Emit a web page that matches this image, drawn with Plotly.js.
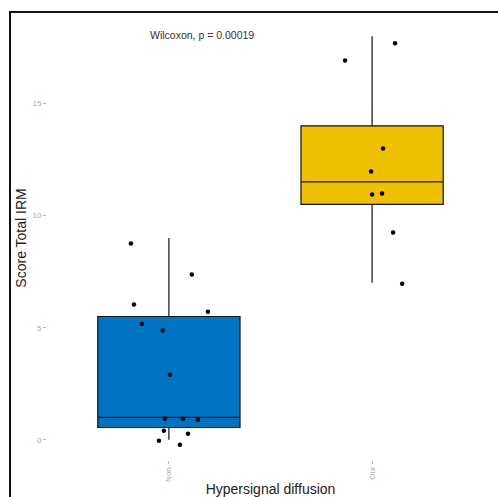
<!DOCTYPE html>
<html>
<head>
<meta charset="utf-8">
<script src="https://cdn.plot.ly/plotly-3.0.1.min.js"></script>
<style>
  html, body { margin: 0; padding: 0; background: #fff; }
  #wrap { position: relative; width: 498px; height: 497px; }
  #chart { width: 498px; height: 497px; }
  #frame { position: absolute; left: 9px; top: 11px; right: 0; bottom: 0;
           border-top: 2px solid #111; border-left: 2px solid #111; pointer-events: none; }
</style>
</head>
<body>
<div id="wrap"><div id="chart"></div><div id="frame"></div></div>
<script>
// Categories and tick labels
const groups = ["Non", "Oui"];
const groupColors = ["#0073C2", "#EFC000"];

// Box statistics (Score Total IRM)
const q1 = [0.55, 10.5];
const median = [1.0, 11.5];
const q3 = [5.5, 14.0];
const lowerWhisker = [0, 7.0];
const upperWhisker = [9.0, 18.0];

// Jittered points (group index, jitter offset, value as drawn)
const ptsGroup = [0,0,0,0,0,0,0,0,0,0,0,0,0,0, 1,1,1,1,1,1,1,1];
const ptsJitter = [-0.187,-0.172,0.113,0.192,-0.133,-0.030,0.005,-0.020,0.069,0.143,-0.025,0.094,-0.049,0.054,
                   0.113,-0.133,0.054,-0.005,0.000,0.049,0.103,0.148];
const ptsValue = [8.75,6.03,7.37,5.71,5.18,4.87,2.90,0.94,0.94,0.89,0.40,0.27,-0.04,-0.22,
                  17.68,16.92,12.99,11.96,10.94,10.98,9.24,6.96];

const testLabel = "Wilcoxon, p = 0.00019";

const traces = groups.map((g, i) => ({
  type: "box",
  name: g,
  x: [i],
  q1: [q1[i]],
  median: [median[i]],
  q3: [q3[i]],
  lowerfence: [lowerWhisker[i]],
  upperfence: [upperWhisker[i]],
  width: 0.7,
  whiskerwidth: 0,
  fillcolor: groupColors[i],
  line: { color: "#111", width: 1.2 },
  hoverinfo: "skip",
  showlegend: false
}));

traces.push({
  type: "scatter",
  mode: "markers",
  x: ptsGroup.map((g, k) => g + ptsJitter[k]),
  y: ptsValue,
  marker: { color: "#000", size: 4.5 },
  showlegend: false,
  hoverinfo: "skip"
});

const layout = {
  width: 498, height: 497,
  margin: { l: 47, r: 4, t: 16, b: 37 },
  paper_bgcolor: "#fff", plot_bgcolor: "#fff",
  font: { family: "Liberation Sans, Arial, sans-serif", color: "#222" },
  xaxis: {
    range: [-0.6, 1.6],
    tickvals: [0, 1],
    ticktext: groups,
    tickangle: -90,
    showgrid: false, zeroline: false, showline: false,
    ticks: "outside", ticklen: 3, tickcolor: "#bbb",
    tickfont: { size: 8, color: "#aaa" },
    title: { text: "Hypersignal diffusion", font: { size: 14, color: "#222" }, standoff: 6 }
  },
  yaxis: {
    range: [-0.9, 18.9],
    tickvals: [0, 5, 10, 15],
    ticktext: ["0", "5", "10", "15"],
    showgrid: false, zeroline: false, showline: false,
    ticks: "outside", ticklen: 3, tickcolor: "#bbb",
    tickfont: { size: 8, color: "#aaa" },
    title: { text: "Score Total IRM", font: { size: 14, color: "#222" }, standoff: 2 }
  },
  annotations: [{
    x: -0.105, y: 18.04, xref: "x", yref: "y",
    xanchor: "left", yanchor: "middle",
    text: testLabel, showarrow: false,
    font: { size: 10.5, color: "#333" }
  }]
};

Plotly.newPlot("chart", traces, layout, { displayModeBar: false, staticPlot: true });
</script>
</body>
</html>
